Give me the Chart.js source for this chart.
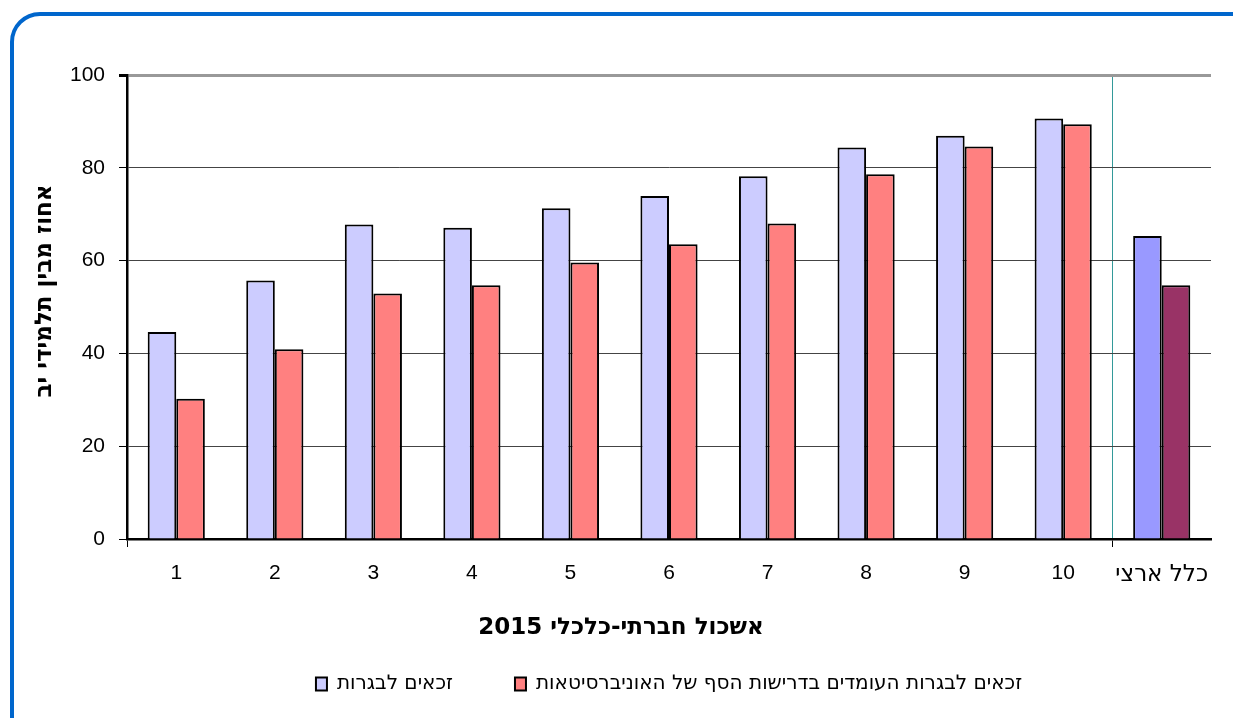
<!DOCTYPE html>
<html>
<head>
<meta charset="utf-8">
<script src="https://cdn.jsdelivr.net/npm/chart.js@4"></script>
<style>
  html, body { margin: 0; padding: 0; background: #fff; }
  #wrap { position: relative; width: 1233px; height: 718px; overflow: hidden; }
  #frame {
    position: absolute; left: 10px; top: 12px; width: 1260px; height: 760px;
    border: 4px solid #0066CC; border-radius: 30px; box-sizing: border-box;
  }
  #c { position: absolute; left: 0; top: 0; }
</style>
</head>
<body>
<div id="wrap">
  <div id="frame"></div>
  <canvas id="c" width="1233" height="718" dir="rtl"></canvas>
</div>
<script>
// categories and values
const categories = ["1", "2", "3", "4", "5", "6", "7", "8", "9", "10", "כלל ארצי"];
const eligible = [44.6, 55.7, 67.8, 67.1, 71.3, 73.9, 78.2, 84.4, 86.9, 90.6, 65.3];
const eligibleUni = [30.2, 40.9, 52.9, 54.7, 59.6, 63.5, 68.0, 78.6, 84.6, 89.4, 54.7];
const yTicks = [0, 20, 40, 60, 80, 100];

const blueFill = categories.map((c, i) => i === 10 ? "#9999FF" : "#CCCCFF");
const redFill = categories.map((c, i) => i === 10 ? "#993366" : "#FF8080");

const latin = "'Liberation Sans', Arial, sans-serif";
const hebrew = "'DejaVu Sans', sans-serif";
// titles in the original sit off the plot centre; pad them with spaces
const pad = n => "\u00A0".repeat(n);

new Chart(document.getElementById("c"), {
  type: "bar",
  data: {
    labels: categories,
    datasets: [{
      label: "זכאים לבגרות",
      data: eligible,
      backgroundColor: blueFill,
      borderColor: "#000",
      borderWidth: 2,
      borderSkipped: "bottom"
    }, {
      label: "זכאים לבגרות העומדים בדרישות הסף של האוניברסיטאות",
      data: eligibleUni,
      backgroundColor: redFill,
      borderColor: "#000",
      borderWidth: 2,
      borderSkipped: "bottom"
    }]
  },
  options: {
    responsive: false,
    animation: false,
    categoryPercentage: 0.58,
    barPercentage: 1,
    layout: { padding: { top: 75, right: 22, left: 0, bottom: 26 } },
    plugins: {
      tooltip: { enabled: false },
      legend: {
        position: "bottom",
        fullSize: false,
        maxHeight: 80,
        labels: {
          font: { family: hebrew, size: 20 },
          color: "#000",
          boxWidth: 11,
          boxHeight: 13,
          padding: 62,
          generateLabels: function(chart) {
            return chart.data.datasets.map((ds, i) => ({
              text: ds.label,
              fillStyle: i === 0 ? "#CCCCFF" : "#FF8080",
              strokeStyle: "#000",
              lineWidth: 2,
              datasetIndex: i
            }));
          }
        }
      }
    },
    scales: {
      x: {
        afterFit: s => { s.height = 73; },
        grid: {
          offset: true,
          drawOnChartArea: true,
          color: ctx => ctx.index === 10 ? "#339999" : (ctx.index === 11 ? "#999" : "rgba(0,0,0,0)"),
          lineWidth: ctx => ctx.index === 11 ? 3 : 1,
          tickColor: ctx => (ctx.index === 0 || ctx.index === 10) ? "#000" : "rgba(0,0,0,0)",
          tickLength: 8
        },
        border: { color: "#000", width: 2.5 },
        ticks: {
          font: ctx => ({ family: ctx.index === 10 ? hebrew : latin, size: ctx.index === 10 ? 23 : 21 }),
          color: "#000",
          padding: 14,
          maxRotation: 0,
          minRotation: 0,
          autoSkip: false
        },
        title: {
          display: true,
          text: pad(12) + "אשכול חברתי-כלכלי 2015",
          font: { family: hebrew, size: 23, weight: "bold" },
          color: "#000",
          padding: { top: 0, bottom: -30 }
        }
      },
      y: {
        min: 0,
        max: 100,
        afterFit: s => { s.width = 127; },
        afterBuildTicks: s => { s.ticks = yTicks.map(v => ({ value: v })); },
        grid: {
          color: ctx => ctx.index === 5 ? "#999" : "#444",
          lineWidth: ctx => ctx.index === 5 ? 3 : 1,
          tickColor: "#000",
          tickLength: 8
        },
        border: { color: "#000", width: 2.5 },
        ticks: { font: { family: latin, size: 21 }, color: "#000", padding: 14 },
        title: {
          display: true,
          text: "אחוז מבין תלמידי יב" + pad(4),
          font: { family: hebrew, size: 23, weight: "bold" },
          color: "#000",
          padding: { top: 31, bottom: 0 }
        }
      }
    }
  }
});
</script>
</body>
</html>
